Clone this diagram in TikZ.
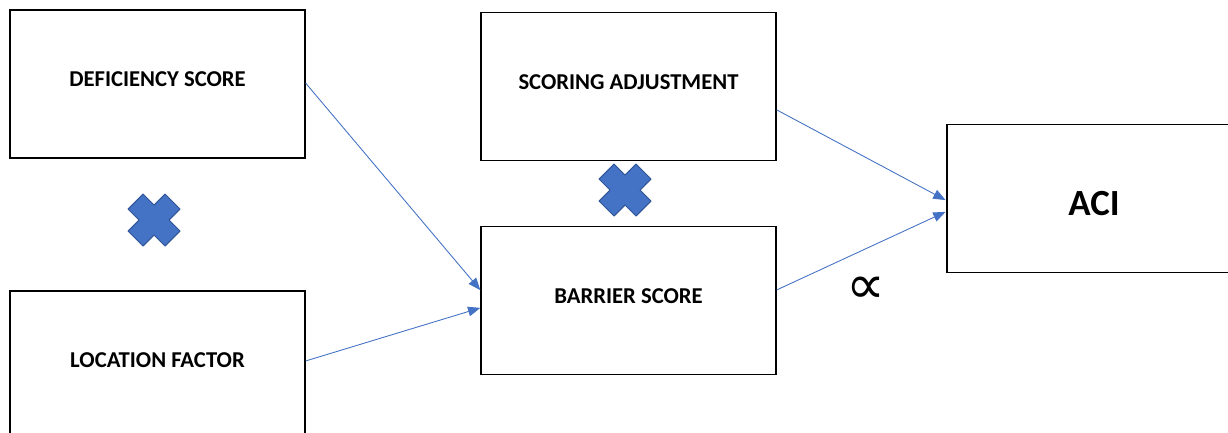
\documentclass[tikz,border=0pt]{standalone}
\usepackage{fontspec}
\setmainfont{Carlito}
\newfontfamily\symfont{DejaVu Sans}
\usepackage{xcolor}
\usepackage{tikz}
\usetikzlibrary{arrows.meta}

\definecolor{linkblue}{HTML}{4472C4}
\definecolor{crossedge}{HTML}{2F5597}

\tikzset{
  scorebox/.style={draw=black, line width=0.8pt, minimum width=5.9cm, minimum height=2.96cm,
    inner sep=0pt, font=\fontsize{12.9}{15}\selectfont\bfseries, text depth=5.5pt},
  link/.style={draw=linkblue, line width=0.5pt, -{Triangle[length=7pt,width=5.5pt]}},
  timesmark/.style={fill=linkblue, draw=crossedge, line width=0.6pt, line join=round}
}

\newcommand{\timescross}[2]{%
  \draw[timesmark] (#1+0,#2-15) -- (#1+11,#2-26) -- (#1+26,#2-11) -- (#1+15,#2)
    -- (#1+26,#2+11) -- (#1+11,#2+26) -- (#1+0,#2+15) -- (#1-11,#2+26)
    -- (#1-26,#2+11) -- (#1-15,#2) -- (#1-26,#2-11) -- (#1-11,#2-26) -- cycle;}

\begin{document}
\begin{tikzpicture}[x=0.02cm, y=-0.02cm]
		\useasboundingbox (0,0) rectangle (1228,433);
		\node[scorebox] (deficiency) at (157.5,84) {DEFICIENCY SCORE};
		\node[scorebox] (location) at (157.5,365) {LOCATION FACTOR};
		\node[scorebox] (scoring) at (628.5,86.5) {SCORING ADJUSTMENT};
		\node[scorebox] (barrier) at (628.5,300.5) {BARRIER SCORE};
		\node[scorebox, line width=1.1pt, text depth=0pt, text height=19.5pt,
			font=\fontsize{21}{24}\selectfont\bfseries] (aci) at (1094,198.5) {ACI};
		\timescross{154}{220}
		\timescross{625}{190}
		\node (prop) at (866,290) {\fontsize{31}{34}\selectfont\symfont ∝};
		\draw[link] ([yshift=0.5pt]deficiency.east) -- ([yshift=5.9pt]barrier.west);
		\draw[link] ([yshift=2.3pt]location.east) -- ([yshift=-4.2pt]barrier.west);
		\draw[link] ([yshift=-13.3pt]scoring.east) -- ([yshift=-0.9pt]aci.west);
		\draw[link] ([yshift=6pt]barrier.east) -- ([yshift=-7.6pt]aci.west);
	\end{tikzpicture}
\end{document}
